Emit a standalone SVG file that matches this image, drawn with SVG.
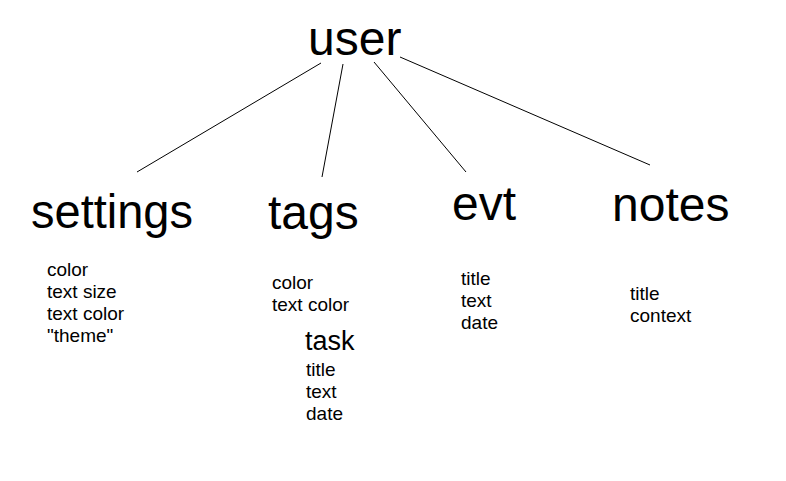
<svg xmlns="http://www.w3.org/2000/svg" width="786" height="481" viewBox="0 0 786 481">
<style>
text{font-family:"Liberation Sans",Arial,sans-serif;fill:#000}
.big{font-size:48px}
.mid{font-size:27px}
.sm{font-size:19px}
.c line{stroke:#000;stroke-width:1}
</style>
<rect width="786" height="481" fill="#fff"/>
<g class="c" id="connectors">
<line x1="321" y1="63" x2="137" y2="172"/>
<line x1="343" y1="64" x2="322" y2="177"/>
<line x1="374" y1="62" x2="466" y2="172"/>
<line x1="400" y1="57" x2="650" y2="165"/>
</g>
<g id="user"><text class="big" x="308" y="55">user</text></g>
<g id="settings">
<text class="big" x="31" y="228" textLength="162" lengthAdjust="spacingAndGlyphs">settings</text>
<text class="sm" x="47" y="276">color</text>
<text class="sm" x="47" y="298">text size</text>
<text class="sm" x="47" y="320">text color</text>
<text class="sm" x="47" y="342">"theme"</text>
</g>
<g id="tags">
<text class="big" x="268" y="229">tags</text>
<text class="sm" x="272" y="289">color</text>
<text class="sm" x="272" y="311">text color</text>
</g>
<g id="task">
<text class="mid" x="305" y="350">task</text>
<text class="sm" x="306" y="376">title</text>
<text class="sm" x="306" y="398">text</text>
<text class="sm" x="306" y="420">date</text>
</g>
<g id="evt">
<text class="big" x="452" y="220">evt</text>
<text class="sm" x="461" y="285">title</text>
<text class="sm" x="461" y="307">text</text>
<text class="sm" x="461" y="329">date</text>
</g>
<g id="notes">
<text class="big" x="612" y="221">notes</text>
<text class="sm" x="630" y="300">title</text>
<text class="sm" x="630" y="322">context</text>
</g>
</svg>
